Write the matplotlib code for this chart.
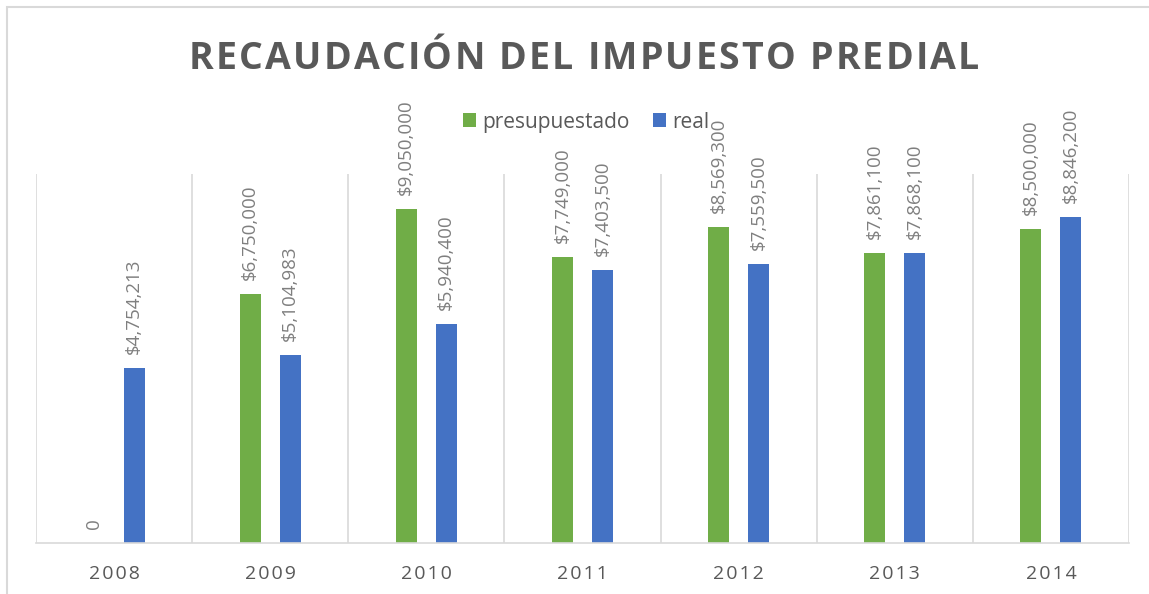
import matplotlib.pyplot as plt
import numpy as np
from matplotlib.patches import Rectangle
from matplotlib import font_manager, ft2font

plt.rcParams['font.family'] = ['Open Sans', 'DejaVu Sans']

# Data
years = ['2008', '2009', '2010', '2011', '2012', '2013', '2014']
presupuestado = [0, 6750000, 9050000, 7749000, 8569300, 7861100, 8500000]
real = [4754213, 5104983, 5940400, 7403500, 7559500, 7868100, 8846200]
title = 'RECAUDACIÓN DEL IMPUESTO PREDIAL'

green = '#70AD47'
blue = '#4472C4'
grid_color = '#D9D9D9'
text_color = '#595959'

W, H = 1149, 594
fig = plt.figure(figsize=(W / 100, H / 100), dpi=100)
ax = fig.add_axes([36 / W, (H - 543) / H, (1129 - 36) / W, (543 - 174) / H])

x = np.arange(len(years))
bw = 0.135
off = 0.128
bars1 = ax.bar(x - off, presupuestado, bw, color=green, label='presupuestado')
bars2 = ax.bar(x + off, real, bw, color=blue, label='real')

# value labels, rotated like in Excel
for bars, vals in [(bars1, presupuestado), (bars2, real)]:
    for b, v in zip(bars, vals):
        txt = '0' if v == 0 else '${:,.0f}'.format(v)
        ax.annotate(txt, (b.get_x() + b.get_width() / 2, v), xytext=(0, 10),
                    textcoords='offset points', rotation=90, ha='center',
                    va='bottom', fontsize=13.5, color='#7F7F7F')

ax.set_xlim(-0.5, len(years) - 0.5)
ax.set_ylim(0, 10000000)

# category separators
for g in np.arange(-0.5, len(years), 1):
    ax.axvline(g, color=grid_color, lw=1.2, zorder=0)

for s in ['top', 'right', 'left']:
    ax.spines[s].set_visible(False)
ax.spines['bottom'].set_color(grid_color)
ax.spines['bottom'].set_linewidth(1.2)
ax.set_yticks([])
ax.set_xticks(x)
ax.set_xticklabels(['\u200a'.join(y) for y in years], fontsize=14, color=text_color)
ax.tick_params(axis='x', length=0, pad=16)

# title with letter spacing: place each character by hand
tsize = 27
fp = font_manager.FontProperties(family='Open Sans', weight='bold', size=tsize)
ft = ft2font.FT2Font(font_manager.findfont(fp))
ft.set_size(tsize, 100)
adv = [ft.load_char(ord(c)).linearHoriAdvance / 65536 for c in title]
target = 790
sp = (target - sum(adv)) / (len(title) - 1)
xpos = 584 - target / 2
for c, a in zip(title, adv):
    fig.text(xpos / W, 1 - 69 / H, c, ha='left', va='baseline', fontproperties=fp,
             color=text_color)
    xpos += a + sp

fig.legend(loc='center', bbox_to_anchor=(586 / W, 1 - 122 / H), ncol=2,
           frameon=False, fontsize=15, labelcolor=text_color, handlelength=0.65,
           handleheight=0.65, handletextpad=0.3, columnspacing=1.1)

# chart border
fig.patches.append(Rectangle((7 / W, -0.1), 1.2, 1.1 - 7 / H, transform=fig.transFigure,
                             fill=False, edgecolor=grid_color, lw=1.5))

plt.savefig('out.png', dpi=100)
